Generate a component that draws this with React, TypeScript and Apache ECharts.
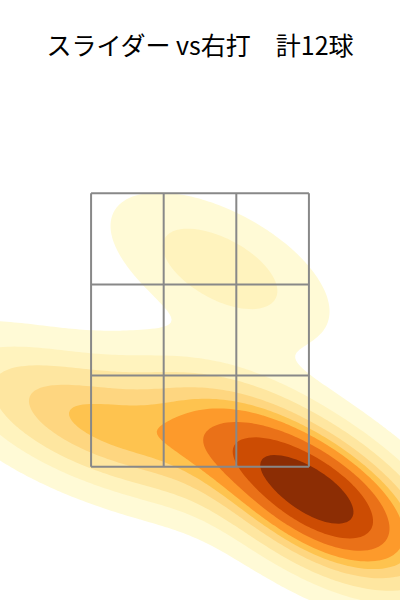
import React, { useEffect, useRef } from "react";
import * as echarts from "echarts";

// ---- data ----
const TITLE = "スライダー vs右打　計12球";
// pitch locations (ft, catcher's view)
const plateX = [0.13, -1.09, -0.65, -0.33, 0.08, 0.44, 0.62, 0.72, 0.78, 0.85, 0.95, 0.82];
const plateZ = [2.95, 1.94, 1.8, 1.71, 1.81, 1.72, 1.45, 1.34, 1.29, 1.23, 1.11, 1.02];
// strike zone grid lines (ft)
const zoneX = [-0.708, -0.236, 0.236, 0.708];
const zoneZ = [1.5, 2.1667, 2.8333, 3.5];
// filled band colours (YlOrBr), lowest to highest density
const bandColors = ["#fffad6", "#fff3be", "#fee6a0", "#fed680", "#fec34f", "#fd9a2b", "#ea7118", "#cc4c03", "#8c2d04"];

// ---- view / smoothing ----
const X_MIN = -1.3;
const X_MAX = 1.3;
const Y_MIN = 0.525;
const Y_MAX = 4.914;
const BW_ADJUST = 1.0;
const THRESH = 0.05;

type Pt = [number, number];

function computeKde(px: number[], pz: number[]) {
  const n = px.length;
  const mx = px.reduce((a, b) => a + b, 0) / n;
  const mz = pz.reduce((a, b) => a + b, 0) / n;
  let sxx = 0, szz = 0, sxz = 0;
  for (let k = 0; k < n; k++) {
    const dx = px[k] - mx, dz = pz[k] - mz;
    sxx += dx * dx; szz += dz * dz; sxz += dx * dz;
  }
  sxx /= n - 1; szz /= n - 1; sxz /= n - 1;
  const f = Math.pow(n, -1 / 6) * BW_ADJUST; // Scott
  const kxx = sxx * f * f, kzz = szz * f * f, kxz = sxz * f * f;
  const det = kxx * kzz - kxz * kxz;
  const ixx = kzz / det, izz = kxx / det, ixz = -kxz / det;
  const norm = 1 / (n * 2 * Math.PI * Math.sqrt(det));
  const bwx = Math.sqrt(kxx), bwz = Math.sqrt(kzz);
  const G = 200, CUT = 3;
  const x0 = Math.min(...px) - CUT * bwx, x1 = Math.max(...px) + CUT * bwx;
  const z0 = Math.min(...pz) - CUT * bwz, z1 = Math.max(...pz) + CUT * bwz;
  const dxs = (x1 - x0) / (G - 1), dzs = (z1 - z0) / (G - 1);
  const N = G + 2;
  const xs: number[] = [], zs: number[] = [];
  for (let i = 0; i < N; i++) xs.push(x0 + (i - 1) * dxs);
  for (let j = 0; j < N; j++) zs.push(z0 + (j - 1) * dzs);
  const dens = new Float64Array(N * N);
  const inner: number[] = [];
  for (let j = 1; j <= G; j++) {
    for (let i = 1; i <= G; i++) {
      let s = 0;
      for (let k = 0; k < n; k++) {
        const dx = xs[i] - px[k], dz = zs[j] - pz[k];
        s += Math.exp(-0.5 * (ixx * dx * dx + 2 * ixz * dx * dz + izz * dz * dz));
      }
      const v = s * norm;
      dens[j * N + i] = v;
      inner.push(v);
    }
  }
  const sorted = inner.slice().sort((a, b) => b - a);
  const total = sorted.reduce((a, b) => a + b, 0);
  const cum: number[] = [];
  let acc = 0;
  for (const v of sorted) { acc += v; cum.push(acc / total); }
  const levels: number[] = [];
  for (let q = 0; q < 10; q++) {
    const iso = THRESH + (q * (1 - THRESH)) / 9;
    const target = 1 - iso;
    let idx = 0;
    while (idx < cum.length - 1 && cum[idx] < target) idx++;
    levels.push(sorted[idx]);
  }
  return { dens, xs, zs, N, levels };
}

function loopsAt(f: Float64Array, N: number, xs: number[], zs: number[], L: number): Pt[][] {
  const pts = new Map<number, Pt>();
  const adj = new Map<number, number[]>();
  const hKey = (i: number, j: number) => (j * N + i) * 2;
  const vKey = (i: number, j: number) => (j * N + i) * 2 + 1;
  const getPt = (key: number): Pt => {
    let p = pts.get(key);
    if (p) return p;
    const idx = key >> 1;
    const i = idx % N, j = (idx - i) / N;
    const a = f[j * N + i];
    if (key & 1) {
      const b = f[(j + 1) * N + i];
      const t = (L - a) / (b - a);
      p = [xs[i], zs[j] + t * (zs[j + 1] - zs[j])];
    } else {
      const b = f[j * N + i + 1];
      const t = (L - a) / (b - a);
      p = [xs[i] + t * (xs[i + 1] - xs[i]), zs[j]];
    }
    pts.set(key, p);
    return p;
  };
  const link = (a: number, b: number) => {
    if (!adj.has(a)) adj.set(a, []);
    if (!adj.has(b)) adj.set(b, []);
    adj.get(a)!.push(b);
    adj.get(b)!.push(a);
  };
  for (let j = 0; j < N - 1; j++) {
    for (let i = 0; i < N - 1; i++) {
      const c0 = f[j * N + i], c1 = f[j * N + i + 1], c2 = f[(j + 1) * N + i + 1], c3 = f[(j + 1) * N + i];
      const code = (c0 >= L ? 1 : 0) | (c1 >= L ? 2 : 0) | (c2 >= L ? 4 : 0) | (c3 >= L ? 8 : 0);
      if (code === 0 || code === 15) continue;
      const e0 = hKey(i, j), e1 = vKey(i + 1, j), e2 = hKey(i, j + 1), e3 = vKey(i, j);
      const center = (c0 + c1 + c2 + c3) / 4 >= L;
      switch (code) {
        case 1: case 14: link(e3, e0); break;
        case 2: case 13: link(e0, e1); break;
        case 3: case 12: link(e3, e1); break;
        case 4: case 11: link(e1, e2); break;
        case 6: case 9: link(e0, e2); break;
        case 7: case 8: link(e3, e2); break;
        case 5:
          if (center) { link(e0, e1); link(e2, e3); } else { link(e3, e0); link(e1, e2); }
          break;
        case 10:
          if (center) { link(e3, e0); link(e1, e2); } else { link(e0, e1); link(e2, e3); }
          break;
      }
    }
  }
  const visited = new Set<number>();
  const loops: Pt[][] = [];
  for (const start of adj.keys()) {
    if (visited.has(start)) continue;
    const loop: Pt[] = [];
    let prev = -1, cur = start;
    while (!visited.has(cur)) {
      visited.add(cur);
      loop.push(getPt(cur));
      const nb = adj.get(cur)!;
      const next = nb[0] === prev ? nb[1] : nb[0];
      prev = cur;
      cur = next;
      if (cur === undefined) break;
    }
    if (loop.length > 2) loops.push(loop);
  }
  return loops;
}

export default function App() {
  const ref = useRef<HTMLDivElement>(null);
  useEffect(() => {
    if (!ref.current) return;
    const chart = echarts.init(ref.current, null, { renderer: "svg" });
    const { dens, xs, zs, N, levels } = computeKde(plateX, plateZ);
    const shapes: { k: number; pts: Pt[] }[] = [];
    for (let k = 0; k < 9; k++) {
      for (const loop of loopsAt(dens, N, xs, zs, levels[k])) shapes.push({ k, pts: loop });
    }
    const zoneSegs = [
      ...zoneX.map((x) => [x, zoneZ[0], x, zoneZ[zoneZ.length - 1]]),
      ...zoneZ.map((z) => [zoneX[0], z, zoneX[zoneX.length - 1], z]),
    ];
    chart.setOption({
      animation: false,
      backgroundColor: "#ffffff",
      title: {
        text: TITLE,
        left: "center",
        top: 26,
        textStyle: { fontSize: 25, fontWeight: "normal", color: "#000000", fontFamily: "Noto Sans CJK JP" },
      },
      grid: { left: 0, right: 0, top: 0, bottom: 0 },
      xAxis: { type: "value", min: X_MIN, max: X_MAX, show: false, splitLine: { show: false } },
      yAxis: { type: "value", min: Y_MIN, max: Y_MAX, show: false, splitLine: { show: false } },
      series: [
        {
          type: "custom",
          coordinateSystem: "cartesian2d",
          clip: true,
          silent: true,
          z: 1,
          data: shapes.map((s, idx) => [s.pts[0][0], s.pts[0][1], idx]),
          encode: { x: 0, y: 1 },
          renderItem: (params: any, api: any) => {
            const s = shapes[params.dataIndex];
            return {
              type: "polygon",
              shape: { points: s.pts.map((p) => api.coord(p)) },
              style: { fill: bandColors[s.k] },
              silent: true,
            };
          },
        },
        {
          type: "custom",
          coordinateSystem: "cartesian2d",
          silent: true,
          z: 2,
          data: zoneSegs,
          encode: { x: [0, 2], y: [1, 3] },
          renderItem: (params: any, api: any) => {
            const a = api.coord([api.value(0), api.value(1)]);
            const b = api.coord([api.value(2), api.value(3)]);
            return {
              type: "line",
              shape: { x1: a[0], y1: a[1], x2: b[0], y2: b[1] },
              style: { stroke: "#888888", lineWidth: 2 },
            };
          },
        },
      ],
    });
    return () => chart.dispose();
  }, []);
  return <div ref={ref} style={{ position: "fixed", left: 0, top: 0, width: 400, height: 600 }} />;
}
